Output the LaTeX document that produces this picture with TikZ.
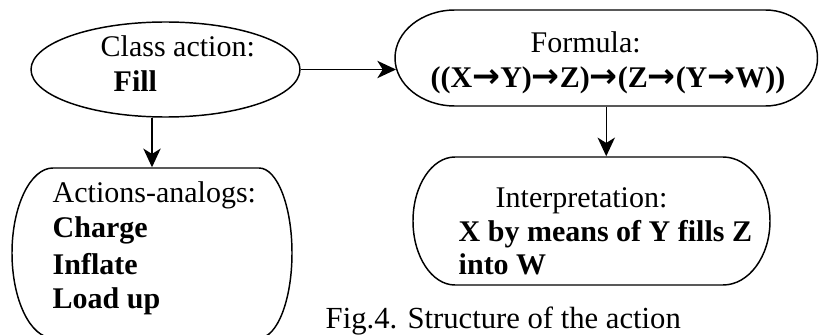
\documentclass[tikz,border=0pt]{standalone}
\usepackage{fontspec}
\setmainfont{Liberation Serif}
\newfontfamily\arrowfont{DejaVu Sans}
\usepackage{tikz}
\usetikzlibrary{shapes.geometric,arrows.meta}
\tikzset{every picture/.style={line width=1.1pt}}
\tikzset{
  txt/.style={anchor=base west,inner sep=0pt,font=\fontsize{22.5}{26}\selectfont},
  frame/.style={inner sep=0pt,draw=none},
  link/.style={-{Stealth[length=14pt,width=13pt,inset=4pt]}}
}
\newcommand\impl{{\arrowfont\bfseries\fontsize{25}{26}\selectfont →}}

\begin{document}
\begin{tikzpicture}[x=0.75pt,y=0.75pt,yscale=-1,xscale=1]
\clip (0,0) rectangle (819,335);

%Shape: Ellipse [class action]
\node (fill) [draw,ellipse,inner sep=0pt,minimum width=201.75pt,minimum height=71.25pt] at (165.5,69.5) {};
%Shape: Rounded box [formula]
\node (formula) [frame,minimum width=317.25pt,minimum height=72pt] at (606.25,58) {};
\draw (455,10) -- (765.5,10) .. controls (794.2,10) and (817.5,31.5) .. (817.5,58) .. controls (817.5,84.5) and (794.2,106) .. (765.5,106) -- (455,106) .. controls (421.9,106) and (395,84.5) .. (395,58) .. controls (395,31.5) and (421.9,10) .. (455,10) -- cycle ;
%Shape: Rounded box [interpretation]
\node (interp) [frame,minimum width=267.75pt,minimum height=96pt] at (591.5,221) {};
\draw (455,157) -- (723,157) .. controls (748.9,157) and (770,185.7) .. (770,221) .. controls (770,256.3) and (748.9,285) .. (723,285) -- (455,285) .. controls (431.8,285) and (413,256.3) .. (413,221) .. controls (413,185.7) and (431.8,157) .. (455,157) -- cycle ;
%Shape: Rounded box [analogs]
\node (analogs) [frame,minimum width=210pt,minimum height=127.5pt] at (152,253) {};
\draw (53,168) -- (259,168) .. controls (277.2,168) and (292,206.1) .. (292,253) .. controls (292,299.9) and (277.2,338) .. (259,338) -- (53,338) .. controls (30.4,338) and (12,299.9) .. (12,253) .. controls (12,206.1) and (30.4,168) .. (53,168) -- cycle ;

%Straight Lines [arrows]
\draw [link] (fill.east) -- ([xshift=1.5pt]fill.east -| formula.west) ;
\draw [link] (analogs.north |- fill.south) -- (analogs.north) ;
\draw [link] (formula.south) -- (formula.south |- interp.north) ;

% Text Node
\node (t1) [txt] at (100,57) {Class action:};
\node (t2) [txt] at (113,92) {\textbf{Fill}};
% Text Node
\node (t3) [txt] at (530,53) {Formula:};
\node (t4) [txt] at (430,88) {\textbf{((X\impl Y)\impl Z)\impl(Z\impl(Y\impl W))}};
% Text Node
\node (t5) [txt] at (52,203) {Actions-analogs:};
\node (t6) [txt] at (52,238) {\textbf{Charge}};
\node (t7) [txt] at (52,274) {\textbf{Inflate}};
\node (t8) [txt] at (52,309) {\textbf{Load up}};
% Text Node
\node (t9) [txt] at (495,208) {Interpretation:};
\node (t10) [txt] at (458,242) {\textbf{X by means of Y fills Z}};
\node (t11) [txt] at (458,275) {\textbf{into W}};
% Text Node
\node (cap) [txt,font=\fontsize{23}{27}\selectfont] at (325,328) {Fig.4. Structure of the action};

\end{tikzpicture}
\end{document}
